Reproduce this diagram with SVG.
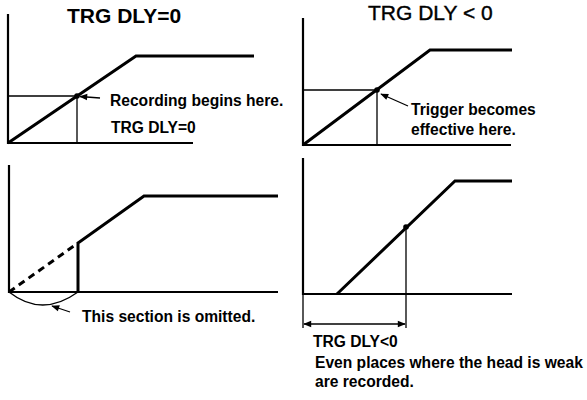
<svg xmlns="http://www.w3.org/2000/svg" width="587" height="400" viewBox="0 0 587 400">
<style>
.ax{stroke:#000;stroke-width:2.2;fill:none}
.cv{stroke:#000;stroke-width:3;fill:none;stroke-linejoin:miter}
.th{stroke:#000;stroke-width:1.3;fill:none}
.title{font-family:"Liberation Sans",Arial,sans-serif;font-size:21px;fill:#000}
.lbl{font-family:"Liberation Sans",Arial,sans-serif;font-size:15.6px;font-weight:bold;fill:#000}
</style>
<defs>
<marker id="ah" viewBox="0 0 10 10" refX="9" refY="5" markerWidth="10" markerHeight="8" markerUnits="userSpaceOnUse" orient="auto-start-reverse">
<path d="M0,1 L10,5 L0,9 Z" fill="#000"/>
</marker>
</defs>
<rect width="587" height="400" fill="#fff"/>

<g id="graph-top-left">
<text class="title" x="67" y="22.5" font-weight="bold" font-size="20.5">TRG DLY=0</text>
<path class="ax" d="M8,14 V143 H193"/>
<path class="th" d="M8,96 H77 V143"/>
<path class="cv" d="M8,143 L136,56 H254"/>
<circle cx="77" cy="96" r="2.8" fill="#000"/>
<text class="lbl" x="110" y="106">Recording begins here.</text>
<text class="lbl" x="111" y="133">TRG DLY=0</text>
</g>

<g id="graph-top-right">
<text class="title" x="368" y="20" stroke="#000" stroke-width="0.4">TRG DLY &lt; 0</text>
<path class="ax" d="M303,18 V145 H511"/>
<path class="th" d="M303,90 H377 V145"/>
<path class="cv" d="M303,145 L430,50 H512"/>
<circle cx="377" cy="90" r="2.8" fill="#000"/>
<text class="lbl" x="411" y="115">Trigger becomes</text>
<text class="lbl" x="411" y="135">effective here.</text>
</g>

<g id="graph-bottom-left">
<path class="ax" d="M9,165 V292 H278"/>
<path class="cv" d="M9,292 L78,243" stroke-dasharray="7,5" stroke-width="2.4"/>
<path class="cv" d="M78,292 V243 L144,196 H278"/>
<path class="th" d="M9,292 Q42,318 78,292"/>
<text class="lbl" x="82" y="322">This section is omitted.</text>
</g>

<g id="graph-bottom-right">
<path class="ax" d="M303,158 V294 H512"/>
<path class="cv" d="M337,294 L455,181 H512"/>
<circle cx="406" cy="227" r="2.8" fill="#000"/>
<path class="th" d="M406,227 V328 M303,294 V328"/>
<text class="lbl" x="313" y="347">TRG DLY&lt;0</text>
<text class="lbl" x="315" y="368">Even places where the head is weak</text>
<text class="lbl" x="315" y="387">are recorded.</text>
</g>

<g id="connectors">
<line class="th" x1="100" y1="98" x2="80" y2="96.5" stroke-width="1.8" marker-end="url(#ah)"/>
<line class="th" x1="408" y1="106" x2="381" y2="94" stroke-width="1.8" marker-end="url(#ah)"/>
<line class="th" x1="70" y1="312" x2="52" y2="306" stroke-width="1.8" marker-end="url(#ah)"/>
<line class="th" x1="304" y1="324" x2="405" y2="324" stroke-width="1.5" marker-start="url(#ah)" marker-end="url(#ah)"/>
</g>
</svg>
